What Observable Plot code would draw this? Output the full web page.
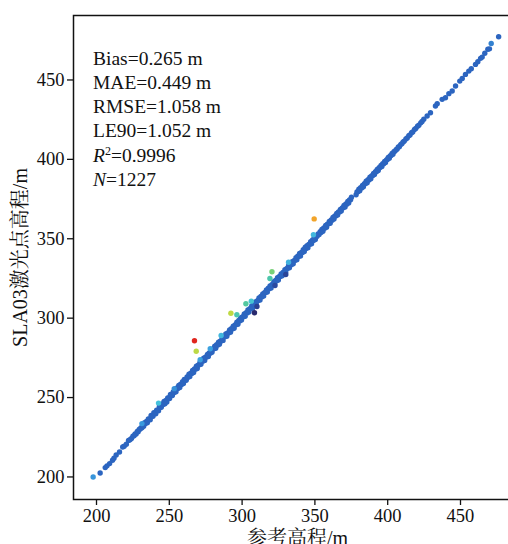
<!DOCTYPE html>
<html>
<head>
<meta charset="utf-8">
<script src="https://cdn.jsdelivr.net/npm/d3@7"></script>
<script src="https://cdn.jsdelivr.net/npm/@observablehq/plot@0.6"></script>
<style>
html, body { margin: 0; padding: 0; overflow: hidden; background: #fff; }
#chart svg { max-width: none !important; }
</style>
</head>
<body>
<div id="chart"></div>
<script>
// Reference elevation (m)
const refElev = [
197.7,202.5,206.0,207.2,209.0,211.0,212.0,213.5,215.8,218.0,219.0,220.5,222.0,223.0,224.0,225.0,225.8,226.5,227.2,228.0,228.6,229.3,230.0,230.6,231.2,
231.8,232.4,233.0,233.7,234.3,234.9,235.6,236.2,236.9,237.5,238.1,238.8,239.4,240.0,240.7,241.3,241.9,242.6,243.2,243.9,244.5,245.1,245.8,246.4,247.0,
247.7,248.3,248.9,249.6,250.2,250.8,251.5,252.1,252.7,253.4,254.0,254.6,255.3,255.9,256.5,257.2,257.8,258.4,259.1,259.7,260.3,261.0,261.6,262.2,262.9,
263.5,264.1,264.8,265.4,266.0,266.7,267.3,267.9,268.6,269.2,269.8,270.5,271.1,271.7,272.4,273.0,273.6,274.3,274.9,275.5,276.2,276.8,277.4,278.1,278.7,
279.3,280.0,280.6,281.2,281.9,282.5,283.1,283.8,284.4,285.0,285.7,286.3,286.9,287.6,288.2,288.8,289.5,290.1,290.7,291.4,292.0,292.6,293.3,293.9,294.5,
295.2,295.8,296.4,297.1,297.7,298.3,299.0,299.6,300.2,300.9,301.5,302.1,302.8,303.4,304.0,304.7,305.3,305.9,306.6,307.2,307.8,308.5,309.1,309.7,310.4,
311.0,311.6,312.3,312.9,313.5,314.2,314.8,315.4,316.1,316.7,317.3,318.0,318.6,319.2,319.9,320.5,321.1,321.8,322.4,323.0,323.7,324.3,324.9,325.6,326.2,
326.8,327.5,328.1,328.7,329.4,330.0,330.6,331.3,331.9,332.5,333.2,333.8,334.4,335.1,335.7,336.3,337.0,337.6,338.2,338.9,339.5,340.1,340.8,341.4,342.0,
342.7,343.3,343.9,344.6,345.2,345.8,346.5,347.1,347.7,348.4,349.0,349.6,350.3,350.9,351.5,352.2,352.9,353.6,354.2,354.8,355.5,356.1,356.7,357.4,358.0,358.6,359.3,
359.9,360.5,361.2,361.8,362.4,363.1,363.7,364.3,365.0,365.6,366.2,366.9,367.5,368.1,368.8,369.4,370.0,370.7,371.3,371.9,372.6,373.2,373.8,374.5,375.1,
378.3,378.9,379.5,380.2,380.8,381.4,382.1,382.7,383.3,384.0,384.6,385.2,385.9,386.5,387.1,387.8,388.4,389.0,389.7,390.3,390.9,
391.6,392.2,392.8,393.5,394.1,394.7,395.4,396.0,396.6,397.3,397.9,398.5,399.2,399.8,400.4,401.1,401.7,402.3,403.0,403.6,404.3,405.0,405.8,406.5,407.3,
408.0,408.9,409.7,410.6,411.4,412.5,413.4,414.5,415.3,416.4,417.2,418.4,419.3,420.5,421.4,422.7,423.6,424.8,427.1,429.4,432.8,434.0,437.4,439.7,442.0,
444.3,446.6,449.5,451.2,453.4,455.7,457.4,460.3,461.9,463.8,464.9,466.7,468.8,469.9,471.1,476.2,
// off-line points
231.2,242.6,253.4,271.2,278.1,285.6,331.9,343.4,349.0,322.6,330.0,310.2,308.5,306.3,296.4,302.6,319.1,320.5,292.3,268.5,349.5,267.3
];
// SLA03 laser point elevation (m)
const slaElev = [
200.0,202.5,205.9,207.0,208.4,210.5,211.8,213.8,215.7,218.9,219.3,220.6,223.0,223.4,224.2,225.6,226.0,227.1,227.0,228.6,228.4,229.9,230.2,231.0,231.0,
232.3,231.9,234.1,233.6,235.0,234.2,236.5,236.3,236.0,238.7,238.4,238.2,240.5,240.2,239.8,242.1,242.0,241.7,244.4,244.0,243.9,246.0,245.6,247.5,246.1,
248.2,247.2,249.8,249.7,249.4,252.0,251.6,251.3,253.5,253.2,255.1,253.7,256.0,255.7,257.7,256.3,258.4,258.3,260.0,258.8,261.4,261.2,260.9,263.0,262.8,
264.7,263.3,265.3,265.2,267.1,265.8,268.0,267.9,269.7,268.3,270.4,270.6,272.2,270.9,273.2,272.8,274.8,273.4,275.4,275.6,277.2,275.9,278.1,277.9,279.8,
278.5,280.6,280.7,282.3,281.0,283.3,283.0,284.9,283.6,285.5,285.6,287.4,286.0,288.3,288.3,290.0,288.6,290.7,290.6,292.5,291.2,293.4,293.2,295.0,293.6,
295.7,295.9,297.5,296.2,298.5,298.2,300.2,298.8,300.8,300.9,302.6,301.2,303.5,303.3,305.1,303.9,305.9,306.0,307.7,306.3,308.6,308.3,310.2,308.9,310.9,
311.1,312.8,311.4,313.6,313.4,315.3,314.0,316.0,316.2,317.8,316.4,318.8,318.5,320.3,319.0,321.0,321.2,322.9,321.6,323.8,323.6,325.5,324.0,326.2,326.2,
327.9,326.7,328.8,328.6,330.5,329.1,331.2,331.4,333.0,331.7,334.0,333.7,335.5,334.2,336.2,336.4,338.1,336.8,339.0,338.8,340.7,339.2,341.4,341.4,343.1,
341.9,344.0,343.8,345.7,344.3,346.4,346.6,348.2,346.9,349.2,348.9,350.7,349.5,351.4,351.6,353.0,352.7,354.4,354.0,355.9,354.7,356.8,356.6,358.4,357.2,359.2,359.4,
360.9,359.8,361.9,361.7,363.4,362.4,364.3,364.4,366.0,364.9,366.9,366.8,368.4,367.5,369.4,369.5,371.0,370.0,372.0,371.8,373.5,372.6,374.4,374.6,376.1,
377.7,379.5,379.6,381.2,380.2,382.1,382.0,383.6,382.7,384.6,384.7,386.2,385.3,387.2,387.0,388.7,387.8,389.6,389.8,391.2,390.4,
392.2,392.2,393.7,393.0,394.7,394.8,396.2,395.5,397.2,397.3,398.7,398.1,399.7,399.9,401.2,400.7,402.2,402.4,403.7,403.2,404.8,405.2,406.1,406.6,407.8,
408.0,409.3,409.8,411.0,411.5,412.9,413.5,414.9,415.4,416.8,417.3,418.8,419.4,420.9,421.5,423.0,423.8,425.3,427.3,429.4,433.6,435.1,437.8,438.8,441.4,
443.1,446.2,449.3,451.0,453.5,455.6,457.1,459.8,461.5,463.6,464.4,466.8,469.3,469.6,473.0,477.2,
// off-line points
233.6,246.5,255.6,273.8,280.7,289.1,335.2,344.7,352.5,320.6,327.5,307.3,303.4,310.7,302.1,309.1,325.0,329.2,303.1,279.2,362.5,285.8
];
// Axis ticks
const ticks = [200, 250, 300, 350, 400, 450];
// Statistics shown in the panel
const statLabels = ["Bias", "MAE", "RMSE", "LE90"];
const statValues = ["0.265 m", "0.449 m", "1.058 m", "1.052 m"];
const r2Value = "0.9996";
const nValue = "1227";

const data = refElev.map((x, i) => ({x, y: slaElev[i], d: slaElev[i] - x}));

const serif = "'Liberation Serif', 'Times New Roman', 'Noto Serif CJK SC', 'Noto Sans CJK SC', serif";

const chart = Plot.plot({
  width: 522,
  height: 544,
  marginLeft: 73,
  marginRight: 1,
  marginTop: 15,
  marginBottom: 45,
  style: {fontFamily: serif, fontSize: "18px", color: "#111", background: "#fff", maxWidth: "none"},
  x: {domain: [184.2, 491.9]},
  y: {domain: [185.8, 490.6]},
  color: {
    type: "linear",
    domain: [-5, -2, -1.3, 1.3, 2.5, 4, 6, 8.5, 11, 13, 18.5],
    range: ["#2a2a6e", "#2b4aa0", "#2c65c0", "#2c65c0", "#3a9ee0", "#45c4dc", "#4cc6a8", "#72d07e", "#c6da3e", "#f2a42a", "#e0261e"],
    clamp: true
  },
  marks: [
    Plot.dot(data, {x: "x", y: "y", fill: "d", r: 2.7, stroke: null}),
    Plot.frame({stroke: "#111", strokeWidth: 1.5}),
    Plot.axisX({ticks, tickSize: 6, tickPadding: 3, tickFormat: d => String(d), fontSize: 18.5,
      label: "参考高程/m", labelAnchor: "center", labelArrow: "none", labelOffset: 45, strokeWidth: 1.3}),
    Plot.axisY({ticks, tickSize: 6, tickPadding: 3, tickFormat: d => String(d), fontSize: 18.5,
      label: "SLA03激光点高程/m", labelAnchor: "center", labelArrow: "none", labelOffset: 61, strokeWidth: 1.3})
  ]
});

chart.style.maxWidth = "none";
document.getElementById("chart").appendChild(chart);

// enlarge axis titles
d3.select(chart).selectAll("g[aria-label='x-axis label'] text, g[aria-label='y-axis label'] text").attr("font-size", 20);

// statistics text block
const svg = d3.select(chart);
const g = svg.append("g").attr("font-family", serif).attr("font-size", 19.5).attr("fill", "#111").attr("text-anchor", "start");
const x0 = 93, y0 = 64.5, dy = 24.3;
statLabels.forEach((s, i) => {
  g.append("text").attr("x", x0).attr("y", y0 + i * dy).text(s + "=" + statValues[i]);
});
const t5 = g.append("text").attr("x", x0).attr("y", y0 + 4 * dy);
t5.append("tspan").attr("font-style", "italic").text("R");
t5.append("tspan").attr("font-size", 12).attr("dy", -7).text("2");
t5.append("tspan").attr("dy", 7).text("=" + r2Value);
const t6 = g.append("text").attr("x", x0).attr("y", y0 + 5 * dy);
t6.append("tspan").attr("font-style", "italic").text("N");
t6.append("tspan").text("=" + nValue);
</script>
</body>
</html>
